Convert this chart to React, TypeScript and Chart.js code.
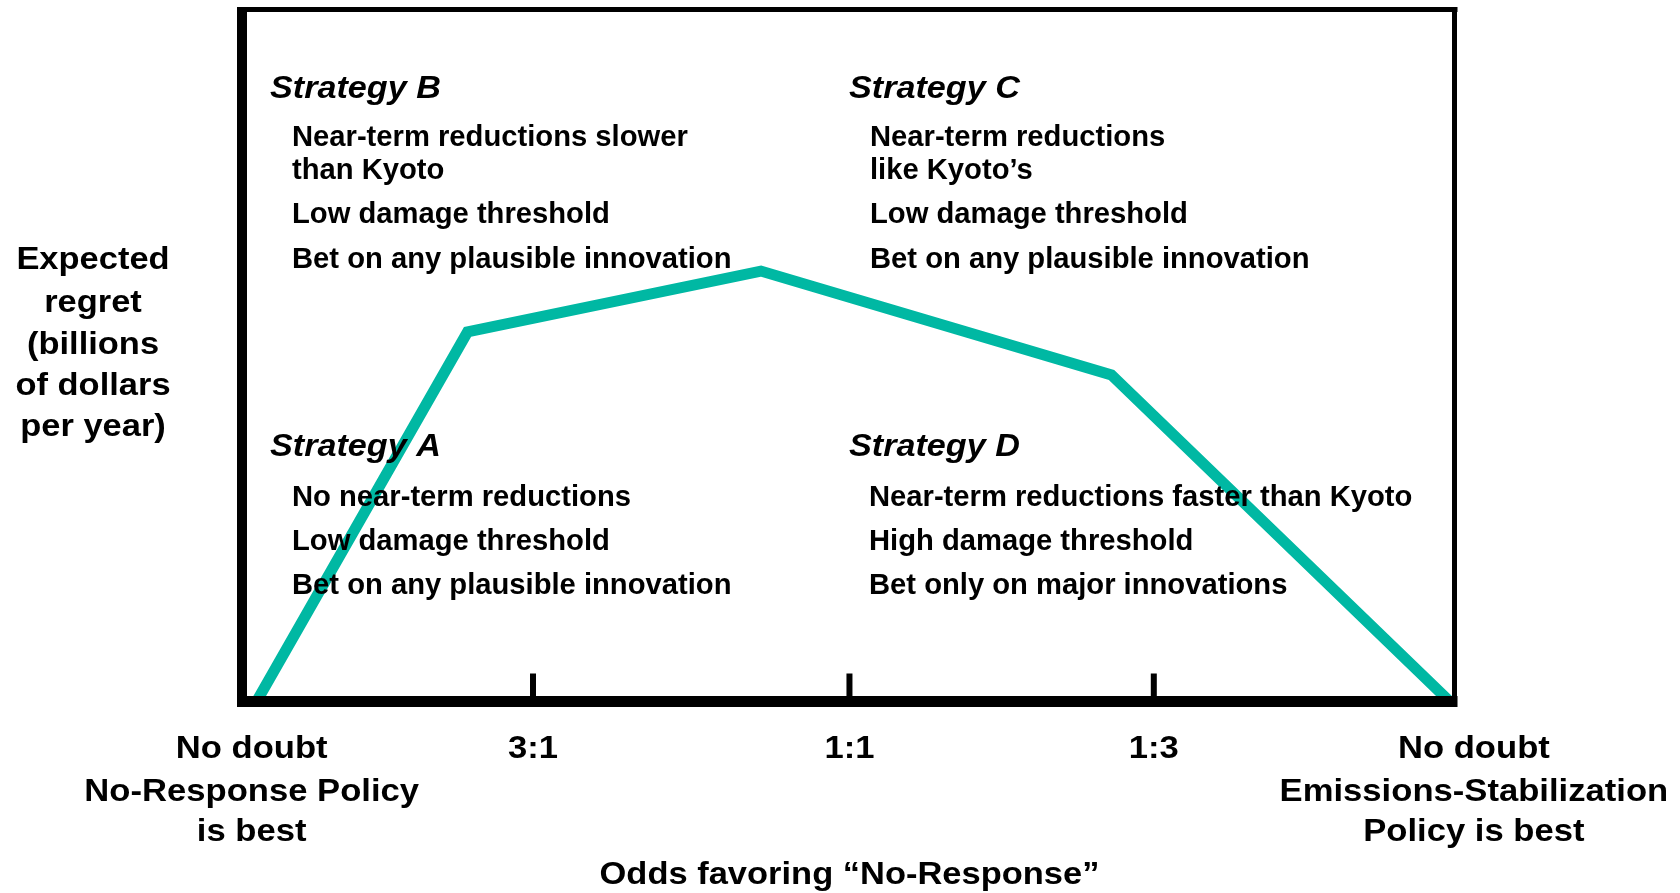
import React, { useEffect, useRef } from "react";
import { Chart, registerables } from "chart.js";

Chart.register(...registerables);

// Position along the "odds" axis (0 = no doubt No-Response best, 100 = no doubt Emissions-Stabilization best)
const curveOdds = [1.2, 18.6, 42.8, 71.7, 99.6];
// Expected regret (relative units, 0..100)
const curveRegret = [0, 53.4, 62.2, 47.2, 0];

const oddsTickPositions = [24, 50.1, 75.2];
const oddsLabelPositions = [0.8, 24, 50.1, 75.2, 101.6];
const oddsLabels = [
  ["No doubt", "No-Response Policy", "is best"],
  ["3:1"],
  ["1:1"],
  ["1:3"],
  ["No doubt", "Emissions-Stabilization", "Policy is best"],
];
const xTitle = "Odds favoring \u201CNo-Response\u201D";
const yTitleLines = ["Expected", "regret", "(billions", "of dollars", "per year)"];

const strategyNames = ["Strategy B", "Strategy C", "Strategy A", "Strategy D"];
const strategyLines = [
  ["Near-term reductions slower", "than Kyoto", "Low damage threshold", "Bet on any plausible innovation"],
  ["Near-term reductions", "like Kyoto\u2019s", "Low damage threshold", "Bet on any plausible innovation"],
  ["No near-term reductions", "Low damage threshold", "Bet on any plausible innovation"],
  ["Near-term reductions faster than Kyoto", "High damage threshold", "Bet only on major innovations"],
];

const FAMILY = '"Liberation Sans", Arial, Helvetica, sans-serif';

function drawText(
  ctx: CanvasRenderingContext2D,
  text: string,
  x: number,
  y: number,
  font: string,
  align: CanvasTextAlign,
  hscale: number
) {
  ctx.save();
  ctx.font = font;
  ctx.textAlign = align;
  ctx.textBaseline = "middle";
  ctx.fillStyle = "#000";
  ctx.translate(x, y);
  ctx.scale(hscale, 1);
  ctx.fillText(text, 0, 0);
  ctx.restore();
}

const framePlugin = {
  id: "framePlugin",
  afterDatasetsDraw(chart: any) {
    const ctx: CanvasRenderingContext2D = chart.ctx;
    const { left, right, top, bottom } = chart.chartArea;
    const xs = chart.scales.x;
    ctx.save();
    ctx.fillStyle = "#000";
    // frame
    ctx.fillRect(left - 5, top - 2.5, right - left + 8, 5); // top
    ctx.fillRect(right - 2.5, top - 2.5, 5, bottom - top + 8); // right
    ctx.fillRect(left - 5, top - 2.5, 10, bottom - top + 8); // left
    ctx.fillRect(left - 5, bottom - 5.5, right - left + 8, 11); // bottom axis
    // tick marks
    oddsTickPositions.forEach((v) => {
      const px = xs.getPixelForValue(v);
      ctx.fillRect(px - 3, bottom - 28, 6, 24);
    });
    ctx.restore();

    // Strategy annotations
    const headFont = `italic bold 30.5px ${FAMILY}`;
    const bodyFont = `bold 29.2px ${FAMILY}`;
    const blocks = [
      { x: 270, bx: 292, y: 90, ys: [138, 171, 215, 260] },
      { x: 849, bx: 870, y: 90, ys: [138, 171, 215, 260] },
      { x: 270, bx: 292, y: 448, ys: [498, 542, 586] },
      { x: 849, bx: 869, y: 448, ys: [498, 542, 586] },
    ];
    blocks.forEach((b, i) => {
      drawText(ctx, strategyNames[i], b.x, b.y, headFont, "left", 1.12);
      strategyLines[i].forEach((t, j) => {
        drawText(ctx, t, b.bx, b.ys[j], bodyFont, "left", 1.0);
      });
    });

    // Y title
    const labFont = `bold 30.5px ${FAMILY}`;
    const yLineY = [261, 304, 346, 387, 428];
    yTitleLines.forEach((t, i) => drawText(ctx, t, 93, yLineY[i], labFont, "center", 1.13));

    // X labels
    const lineY = [750, 793, 833];
    oddsLabels.forEach((lines, i) => {
      const px = xs.getPixelForValue(oddsLabelPositions[i]);
      lines.forEach((t, j) => drawText(ctx, t, px, lineY[j], labFont, "center", 1.135));
    });
    drawText(ctx, xTitle, xs.getPixelForValue(50.1), 876, labFont, "center", 1.13);
  },
};

export default function App() {
  const ref = useRef<HTMLCanvasElement | null>(null);
  useEffect(() => {
    if (!ref.current) return;
    const chart = new Chart(ref.current, {
      type: "line",
      data: {
        datasets: [
          {
            data: curveOdds.map((x, i) => ({ x, y: curveRegret[i] })),
            borderColor: "#00B8A3",
            borderWidth: 11,
            pointRadius: 0,
            tension: 0,
            fill: false,
            borderJoinStyle: "miter",
            borderCapStyle: "butt",
          },
        ],
      },
      options: {
        animation: false,
        responsive: false,
        layout: { padding: { left: 242, right: 225.5, top: 9.5, bottom: 191.5 } },
        plugins: { legend: { display: false }, tooltip: { enabled: false } },
        scales: {
          x: { type: "linear", min: 0, max: 100, display: false },
          y: { type: "linear", min: 0, max: 100, display: false },
        },
      },
      plugins: [framePlugin],
    });
    return () => chart.destroy();
  }, []);
  return (
    <div style={{ position: "fixed", left: 0, top: 0, width: 1680, height: 893, background: "#fff" }}>
      <canvas ref={ref} width={1680} height={893} style={{ display: "block", width: 1680, height: 893 }} />
    </div>
  );
}
